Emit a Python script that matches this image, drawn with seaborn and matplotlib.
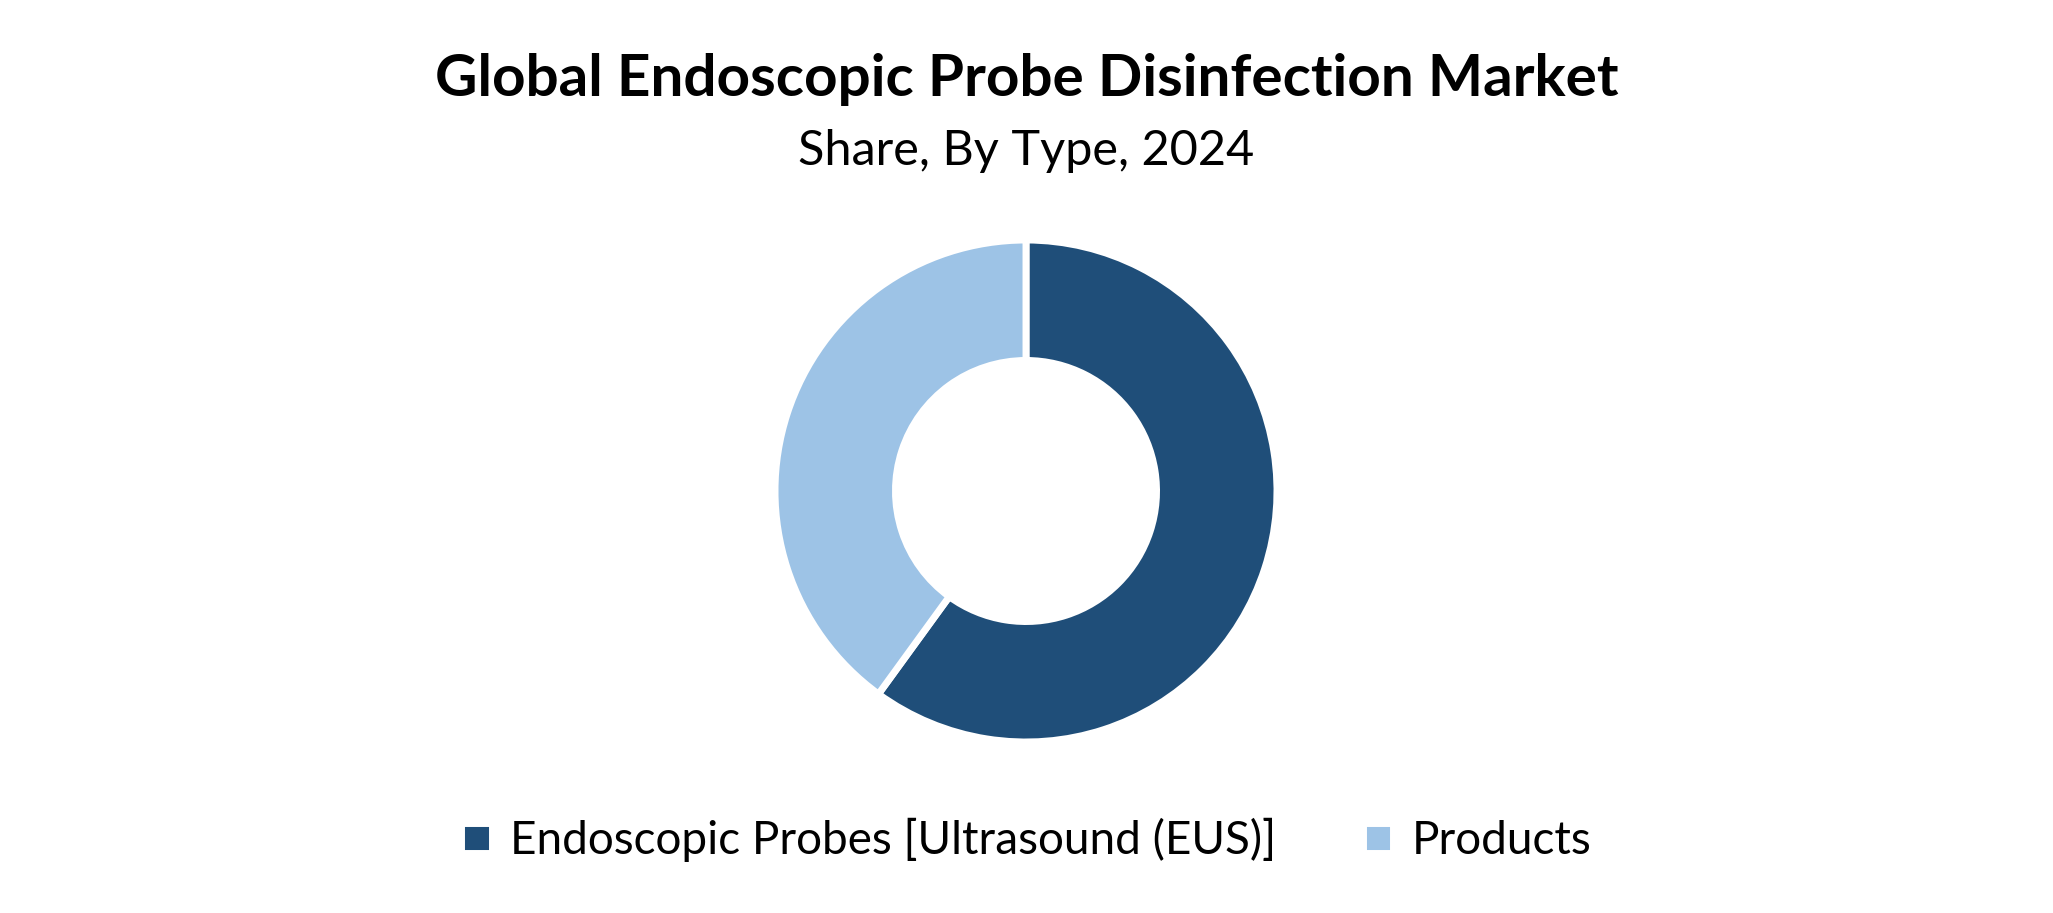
import matplotlib
matplotlib.use('Agg')
import matplotlib.pyplot as plt
import seaborn as sns

# Market share by type, 2024
types = ["Endoscopic Probes [Ultrasound (EUS)]", "Products"]
shares = [60, 40]
colors = ["#1F4E79", "#9DC3E6"]

title = "Global Endoscopic Probe Disinfection Market"
subtitle = "Share, By Type, 2024"

sns.set_theme(style="white")
plt.rcParams['font.family'] = ['Lato', 'DejaVu Sans']
plt.rcParams['text.color'] = 'black'

W, H = 2053, 913
fig = plt.figure(figsize=(W / 100, H / 100), dpi=100)
fig.patch.set_facecolor("white")

# donut: centre (1026, 491) px from top-left, outer radius 251 px
cx, cy, r = 1026, 491, 251
ax = fig.add_axes([(cx - r) / W, (H - cy - r) / H, 2 * r / W, 2 * r / H])
wedges, _ = ax.pie(shares, colors=colors, startangle=90, counterclock=False,
                   radius=1.0,
                   wedgeprops=dict(width=0.48, edgecolor="white", linewidth=5))
ax.set_xlim(-1, 1)
ax.set_ylim(-1, 1)
ax.set_aspect("equal")
ax.axis("off")

fig.text(0.5, 1 - 79 / H, title, ha="center", va="center",
         fontsize=42, fontweight="bold", color="black")
fig.text(0.5, 1 - 151 / H, subtitle, ha="center", va="center",
         fontsize=35, color="black")

leg = fig.legend(wedges, types, loc="center", bbox_to_anchor=(0.5, 1 - 840 / H),
                 ncol=2, frameon=False, fontsize=33,
                 handlelength=0.66, handleheight=0.66, handletextpad=0.4,
                 columnspacing=1.9)
for t in leg.get_texts():
    t.set_color("black")

plt.savefig("out.png", dpi=100, facecolor="white")
plt.close()
